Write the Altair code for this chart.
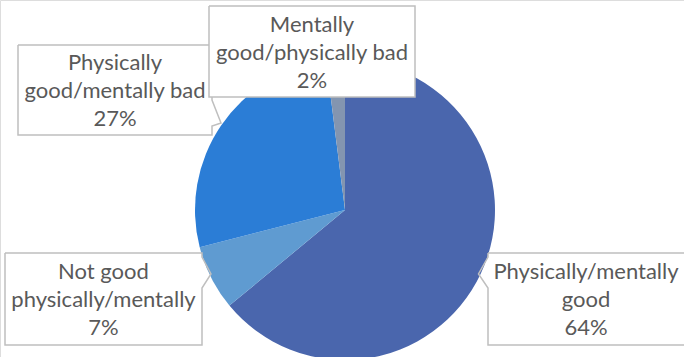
import altair as alt
import pandas as pd

# Survey shares, drawn clockwise from 12 o'clock
categories = [
    "Physically/mentally good",
    "Not good physically/mentally",
    "Physically good/mentally bad",
    "Mentally good/physically bad",
]
label_lines = [
    "Physically/mentally\ngood",
    "Not good\nphysically/mentally",
    "Physically\ngood/mentally bad",
    "Mentally\ngood/physically bad",
]
shares = [64, 7, 27, 2]
colors = ["#4A66AD", "#5F9BD1", "#2B7DD6", "#8395B0"]

# Callout boxes (left, top, right, bottom) and the side their pointer sits on
box_left = [488, 5, 18, 209]
box_top = [253, 253, 45, 6]
box_right = [690, 202, 212, 415]
box_bottom = [345, 345, 135, 97]
pointer_side = ["left", "right", "right", "none"]
pointer_y = [(257, 274, 288), (257, 274, 288), (100, 123, 126), None]
pointer_tip_x = [478.5, 211, 221, None]
LINE_H = 28

pie_df = pd.DataFrame({
    "category": categories,
    "share": shares,
    "k": list(range(len(categories))),
})

pie = alt.Chart(pie_df).mark_arc(radius=150).encode(
    theta=alt.Theta("share:Q", stack=True),
    order=alt.Order("k:Q"),
    color=alt.Color("category:N", scale=alt.Scale(domain=categories, range=colors), legend=None),
    x=alt.value(345),
    y=alt.value(210),
)

rects, outlines, texts = [], [], []
for i, cat in enumerate(categories):
    l, t, r, b = box_left[i], box_top[i], box_right[i], box_bottom[i]
    pts = [(l, t), (r, t)]
    if pointer_side[i] == "right":
        y0, yt, y1 = pointer_y[i]
        pts += [(r, y0), (pointer_tip_x[i], yt), (r, y1)]
    pts += [(r, b), (l, b)]
    if pointer_side[i] == "left":
        y0, yt, y1 = pointer_y[i]
        pts += [(l, y1), (pointer_tip_x[i], yt), (l, y0)]
    pts += [(l, t)]
    odf = pd.DataFrame({"px": [p[0] for p in pts], "py": [p[1] for p in pts],
                        "k": list(range(len(pts)))})
    rdf = pd.DataFrame({"l": [l], "t": [t], "r": [r], "b": [b]})
    rect = alt.Chart(rdf).mark_rect(fill="white").encode(
        x=alt.X("l:Q", scale=None, axis=None),
        x2="r:Q",
        y=alt.Y("t:Q", scale=None, axis=None),
        y2="b:Q",
    )
    outline = alt.Chart(odf).mark_line(color="#BFBFBF", strokeWidth=1.5).encode(
        x=alt.X("px:Q", scale=None, axis=None),
        y=alt.Y("py:Q", scale=None, axis=None),
        order="k:Q",
    )
    # three text lines; the first line's middle sits one line above the box centre
    tdf = pd.DataFrame({
        "txt": [label_lines[i] + "\n" + f"{shares[i]}%"],
        "cx": [(l + min(r, 684)) / 2],
        "cy": [(t + b) / 2 - LINE_H + 1],
    })
    text = alt.Chart(tdf).mark_text(
        font="Lato", fontSize=22, lineHeight=LINE_H, color="#595959",
        lineBreak="\n", align="center", baseline="middle",
    ).encode(
        x=alt.X("cx:Q", scale=None, axis=None),
        y=alt.Y("cy:Q", scale=None, axis=None),
        text="txt:N",
    )
    rects.append(rect)
    outlines.append(outline)
    texts.append(text)

layers = [pie]
for i in range(len(categories)):
    layers += [rects[i], outlines[i]]
layers += texts

chart = alt.layer(*layers).properties(
    width=684, height=357,
    autosize=alt.AutoSizeParams(type="none"),
    padding=0,
).configure_view(stroke=None).configure(background="white")

chart.save("out.html", embed_options={"renderer": "svg", "actions": False})
